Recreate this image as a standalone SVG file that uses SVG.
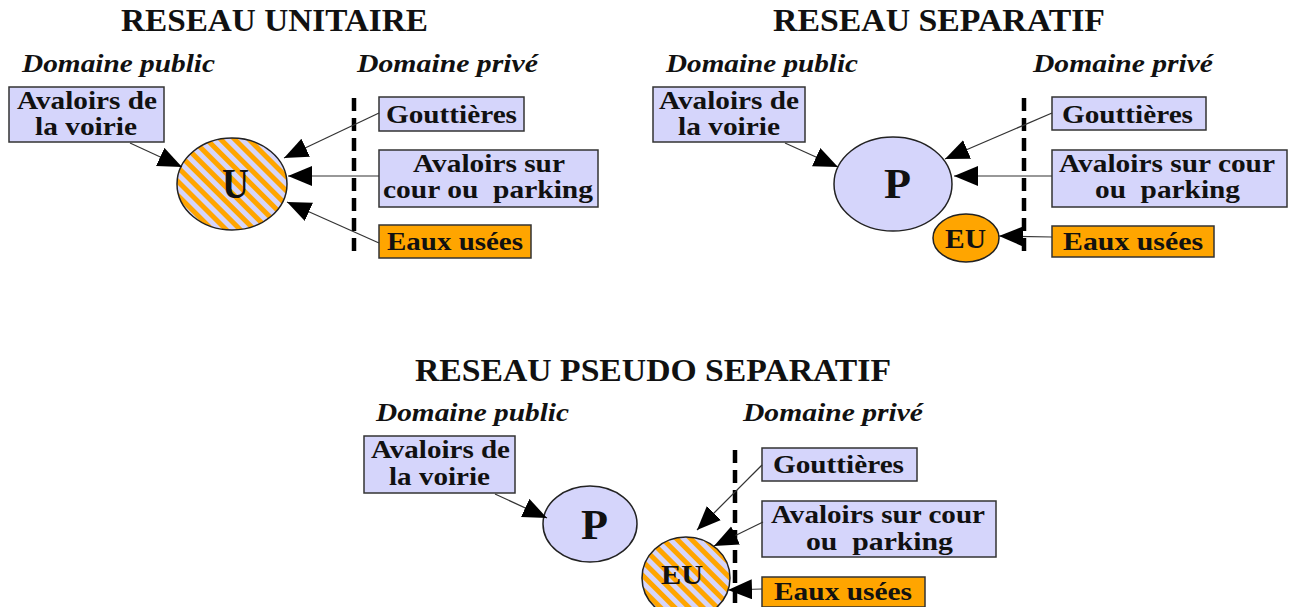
<svg xmlns="http://www.w3.org/2000/svg" width="1291" height="607" viewBox="0 0 1291 607">
<defs>
<style>
.title{font-family:"Liberation Serif","Times New Roman",serif;font-weight:bold;font-size:31px;fill:#111}
.dom{font-family:"Liberation Serif","Times New Roman",serif;font-weight:bold;font-style:italic;font-size:25px;fill:#111}
.lbl{font-family:"Liberation Serif","Times New Roman",serif;font-weight:bold;font-size:25px;fill:#111;white-space:pre}
.big{font-family:"Liberation Serif","Times New Roman",serif;font-weight:bold;font-size:42px;fill:#111}
.eu{font-family:"Liberation Serif","Times New Roman",serif;font-weight:bold;font-size:27px;fill:#111}
.box{fill:#D5D5FB;stroke:#333;stroke-width:1.5}
.obox{fill:#FFA500;stroke:#333;stroke-width:1.5}
.node{stroke:#222;stroke-width:1.5}
.div{stroke:#000;stroke-width:4.5;stroke-dasharray:13 7;fill:none}
.con{stroke:#333;stroke-width:1.2;fill:none;marker-end:url(#ah)}
</style>
<marker id="ah" markerUnits="userSpaceOnUse" markerWidth="26" markerHeight="22" refX="24" refY="10" orient="auto">
<path d="M0,0 L24,10 L0,20 Z" fill="#000"/>
</marker>
<pattern id="hatch" patternUnits="userSpaceOnUse" width="10" height="10" patternTransform="rotate(45)">
<rect width="10" height="10" fill="#D5D5FB"/>
<rect width="10" height="5" fill="#FFA500"/>
</pattern>
</defs>
<rect width="1291" height="607" fill="#fff"/>

<g id="titles">
<text class="title" x="121" y="31" textLength="307" lengthAdjust="spacingAndGlyphs">RESEAU UNITAIRE</text>
<text class="title" x="773" y="31" textLength="332" lengthAdjust="spacingAndGlyphs">RESEAU SEPARATIF</text>
<text class="title" x="415" y="381" textLength="476" lengthAdjust="spacingAndGlyphs">RESEAU PSEUDO SEPARATIF</text>
<text class="dom" x="22" y="72" textLength="193" lengthAdjust="spacingAndGlyphs">Domaine public</text>
<text class="dom" x="357" y="72" textLength="181" lengthAdjust="spacingAndGlyphs">Domaine privé</text>
<text class="dom" x="666" y="72" textLength="192" lengthAdjust="spacingAndGlyphs">Domaine public</text>
<text class="dom" x="1033" y="72" textLength="180" lengthAdjust="spacingAndGlyphs">Domaine privé</text>
<text class="dom" x="376" y="421" textLength="193" lengthAdjust="spacingAndGlyphs">Domaine public</text>
<text class="dom" x="743" y="421" textLength="180" lengthAdjust="spacingAndGlyphs">Domaine privé</text>
</g>

<g id="dividers">
<line class="div" x1="354" y1="98" x2="354" y2="258"/>
<line class="div" x1="1024" y1="98" x2="1024" y2="258"/>
<line class="div" x1="735" y1="450" x2="735" y2="607"/>
</g>

<g id="u-avaloirs-voirie">
<rect class="box" x="9" y="87" width="155" height="55"/>
<text class="lbl" x="17" y="109" textLength="140" lengthAdjust="spacingAndGlyphs">Avaloirs de</text>
<text class="lbl" x="35" y="135" textLength="102" lengthAdjust="spacingAndGlyphs">la voirie</text>
</g>
<g id="u-node">
<ellipse class="node" cx="232" cy="184" rx="55" ry="46" fill="url(#hatch)"/>
<text class="big" x="222" y="198" textLength="27" lengthAdjust="spacingAndGlyphs">U</text>
</g>
<g id="u-gouttieres">
<rect class="box" x="379" y="97" width="145" height="34"/>
<text class="lbl" x="386" y="123" textLength="131" lengthAdjust="spacingAndGlyphs">Gouttières</text>
</g>
<g id="u-avaloirs-cour">
<rect class="box" x="379" y="150" width="219" height="57"/>
<text class="lbl" x="413" y="172" textLength="152" lengthAdjust="spacingAndGlyphs">Avaloirs sur</text>
<text class="lbl" x="383" y="198" textLength="210" lengthAdjust="spacingAndGlyphs">cour ou  parking</text>
</g>
<g id="u-eaux-usees">
<rect class="obox" x="379" y="225" width="152" height="33"/>
<text class="lbl" x="387" y="250" textLength="136" lengthAdjust="spacingAndGlyphs">Eaux usées</text>
</g>

<g id="s-avaloirs-voirie">
<rect class="box" x="653" y="87" width="152" height="55"/>
<text class="lbl" x="659" y="109" textLength="140" lengthAdjust="spacingAndGlyphs">Avaloirs de</text>
<text class="lbl" x="678" y="135" textLength="102" lengthAdjust="spacingAndGlyphs">la voirie</text>
</g>
<g id="s-node-p">
<ellipse class="node" cx="893" cy="184" rx="59" ry="47" fill="#D5D5FB"/>
<text class="big" x="884" y="198" textLength="27" lengthAdjust="spacingAndGlyphs">P</text>
</g>
<g id="s-node-eu">
<ellipse class="node" cx="966" cy="238" rx="33" ry="24" fill="#FFA500"/>
<text class="eu" x="945" y="248" textLength="41" lengthAdjust="spacingAndGlyphs">EU</text>
</g>
<g id="s-gouttieres">
<rect class="box" x="1052" y="97" width="154" height="33"/>
<text class="lbl" x="1062" y="123" textLength="131" lengthAdjust="spacingAndGlyphs">Gouttières</text>
</g>
<g id="s-avaloirs-cour">
<rect class="box" x="1052" y="150" width="235" height="57"/>
<text class="lbl" x="1059" y="172" textLength="216" lengthAdjust="spacingAndGlyphs">Avaloirs sur cour</text>
<text class="lbl" x="1095" y="198" textLength="145" lengthAdjust="spacingAndGlyphs">ou  parking</text>
</g>
<g id="s-eaux-usees">
<rect class="obox" x="1052" y="226" width="162" height="31"/>
<text class="lbl" x="1063" y="250" textLength="140" lengthAdjust="spacingAndGlyphs">Eaux usées</text>
</g>

<g id="p-avaloirs-voirie">
<rect class="box" x="364" y="436" width="151" height="57"/>
<text class="lbl" x="371" y="458" textLength="139" lengthAdjust="spacingAndGlyphs">Avaloirs de</text>
<text class="lbl" x="389" y="485" textLength="101" lengthAdjust="spacingAndGlyphs">la voirie</text>
</g>
<g id="p-node-p">
<ellipse class="node" cx="590" cy="524" rx="47" ry="38" fill="#D5D5FB"/>
<text class="big" x="581" y="539" textLength="27" lengthAdjust="spacingAndGlyphs">P</text>
</g>
<g id="p-node-eu">
<ellipse class="node" cx="686" cy="578" rx="44" ry="41" fill="url(#hatch)"/>
<text class="eu" x="661" y="584" textLength="42" lengthAdjust="spacingAndGlyphs">EU</text>
</g>
<g id="p-gouttieres">
<rect class="box" x="762" y="448" width="155" height="33"/>
<text class="lbl" x="773" y="473" textLength="131" lengthAdjust="spacingAndGlyphs">Gouttières</text>
</g>
<g id="p-avaloirs-cour">
<rect class="box" x="762" y="501" width="234" height="56"/>
<text class="lbl" x="771" y="523" textLength="214" lengthAdjust="spacingAndGlyphs">Avaloirs sur cour</text>
<text class="lbl" x="806" y="550" textLength="147" lengthAdjust="spacingAndGlyphs">ou  parking</text>
</g>
<g id="p-eaux-usees">
<rect class="obox" x="762" y="577" width="163" height="30"/>
<text class="lbl" x="774" y="600" textLength="138" lengthAdjust="spacingAndGlyphs">Eaux usées</text>
</g>

<g id="connectors">
<line class="con" x1="130" y1="143" x2="182" y2="167"/>
<line class="con" x1="379" y1="113" x2="284" y2="158"/>
<line class="con" x1="379" y1="176" x2="288" y2="176"/>
<line class="con" x1="379" y1="243" x2="287" y2="202"/>
<line class="con" x1="785" y1="143" x2="838" y2="167"/>
<line class="con" x1="1052" y1="113" x2="945" y2="159"/>
<line class="con" x1="1052" y1="176" x2="954" y2="176"/>
<line class="con" x1="1052" y1="237" x2="999" y2="236"/>
<line class="con" x1="495" y1="494" x2="547" y2="518"/>
<line class="con" x1="762" y1="465" x2="697" y2="530"/>
<line class="con" x1="763" y1="522" x2="714" y2="546"/>
<line class="con" x1="762" y1="589" x2="728" y2="590"/>
</g>
</svg>
